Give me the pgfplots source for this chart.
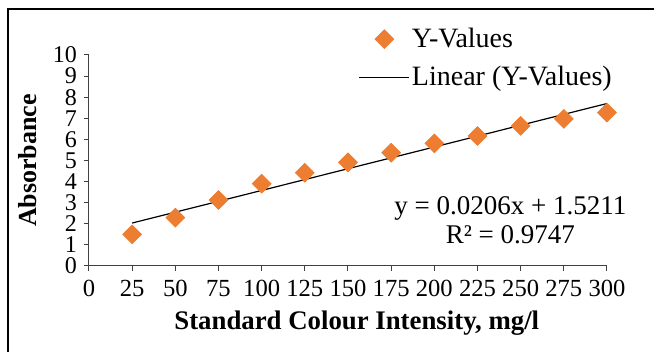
\documentclass[border=0pt]{standalone}
\usepackage{fontspec}
\setmainfont{Liberation Serif}
\usepackage{pgfplots}
\pgfplotsset{compat=1.18}
\definecolor{xlorange}{HTML}{ED7D31}
\pgfplotsset{
  diamleg/.style={legend image code/.code={\draw[##1] plot coordinates {(12.5pt,0pt)};}},
  lineleg/.style={legend image code/.code={\draw[##1] (0pt,0pt) -- (25pt,0pt);}},
}
\begin{document}
\begin{tikzpicture}
\path[use as bounding box] (0pt,0pt) rectangle (327pt,176pt);
\draw[line width=1pt,black] (4pt,0pt) -- (4pt,171.5pt) -- (327pt,171.5pt);
\begin{axis}[
  at={(44.5pt,43pt)}, anchor=south west,
  scale only axis, width=259pt, height=105.5pt,
  xmin=0, xmax=300, ymin=0, ymax=10,
  xtick={0,25,...,300}, ytick={0,1,...,10},
  axis x line=bottom, axis y line=left,
  axis line style={-, black!75, line width=0.5pt},
  tick align=outside, major tick length=2.5pt,
  tick style={black!75, line width=0.5pt},
  /pgf/number format/assume math mode=true,
  tick label style={font=\fontsize{12.3}{14}\selectfont},
  xticklabel style={yshift=-1pt, inner xsep=0.5pt},
  yticklabel style={font=\fontsize{12}{13}\selectfont, inner ysep=0pt},
  xlabel={Standard Colour Intensity, mg/l},
  ylabel={Absorbance},
  xlabel style={at={(axis description cs:0.517,-0.27)}, anchor=center, font=\fontsize{13.4}{15}\selectfont\bfseries},
  ylabel style={at={(axis description cs:-0.1178,0.5)}, anchor=center, font=\fontsize{13}{15}\selectfont\bfseries},
  clip=false,
  legend cell align=left,
  legend style={at={(axis description cs:0.52,1.14)}, anchor=north west, draw=none, fill=none,
    font=\fontsize{14}{16}\selectfont, row sep=6pt, inner sep=0pt,
    nodes={inner sep=1pt}},
]
\addplot[only marks, mark=square*, mark size=3.3pt, mark options={rotate=45, fill=xlorange, draw=xlorange}, diamleg]
  coordinates {
  (25,1.50) (50,2.29) (75,3.13) (100,3.90) (125,4.42) (150,4.91)
  (175,5.37) (200,5.81) (225,6.16) (250,6.64) (275,6.97) (300,7.27)
  };
\addlegendentry{Y-Values}
\addplot[black, line width=0.6pt, mark=none, lineleg]
  coordinates {(25,2.0361) (300,7.7011)};
\addlegendentry{Linear (Y-Values)}
\node[align=center, font=\fontsize{13.5}{14.5}\selectfont, anchor=center] at (axis cs:244,2.18)
  {y = 0.0206x + 1.5211\\R² = 0.9747};
\end{axis}
\end{tikzpicture}
\end{document}
